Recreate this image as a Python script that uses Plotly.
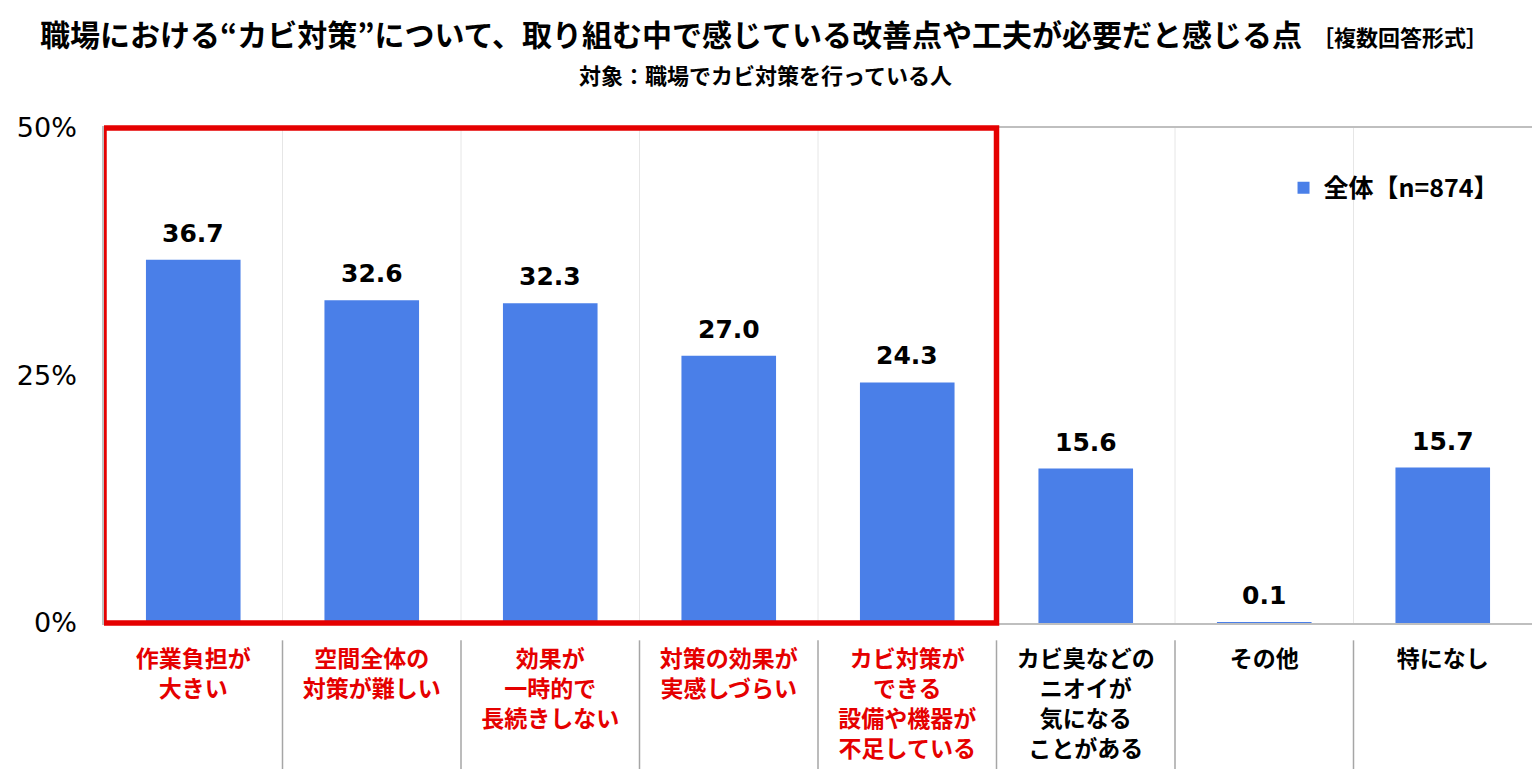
import plotly.graph_objects as go

categories = [
    "作業負担が<br>大きい",
    "空間全体の<br>対策が難しい",
    "効果が<br>一時的で<br>長続きしない",
    "対策の効果が<br>実感しづらい",
    "カビ対策が<br>できる<br>設備や機器が<br>不足している",
    "カビ臭などの<br>ニオイが<br>気になる<br>ことがある",
    "その他",
    "特になし",
]
values = [36.7, 32.6, 32.3, 27.0, 24.3, 15.6, 0.1, 15.7]
highlighted = [True, True, True, True, True, False, False, False]
series_name = "全体【n=874】"
y_tick_vals = [0, 25, 50]
y_tick_text = ["0%", "25%", "50%"]

FONT = "Noto Sans CJK JP"
NUMFONT = "DejaVu Sans"
BAR = "#4a7fe8"
RED = "#e50000"

xs = list(range(len(categories)))
ticktext = [
    f"<span style='color:{RED if h else '#000000'}'><b>{c}</b></span>"
    for c, h in zip(categories, highlighted)
]

fig = go.Figure()
fig.add_trace(go.Bar(
    x=xs, y=values, name=series_name,
    marker=dict(color=BAR, line=dict(width=0)),
    showlegend=True,
    hoverinfo="x+y",
))

for x, v in zip(xs, values):
    fig.add_annotation(
        x=x, y=v, xref="x", yref="y", text=f"<b>{v:.1f}</b>",
        showarrow=False, xanchor="center", yanchor="bottom", yshift=10,
        font=dict(family=NUMFONT, size=25, color="#000000"),
    )

shapes = []
n = len(categories)
for i in range(n - 1):
    b = i + 0.5
    shapes.append(dict(type="line", xref="x", yref="paper", x0=b, x1=b, y0=0, y1=1,
                       line=dict(color="#e6e6e6", width=1), layer="below"))
    shapes.append(dict(type="line", xref="x", yref="paper", x0=b, x1=b, y0=-0.035, y1=-0.30,
                       line=dict(color="#a6a6a6", width=1.5)))
hi_idx = [i for i, h in enumerate(highlighted) if h]
shapes.append(dict(type="rect", xref="x", yref="paper",
                   x0=min(hi_idx) - 0.5, x1=max(hi_idx) + 0.5, y0=0, y1=1,
                   line=dict(color=RED, width=5.5), layer="above"))

fig.update_layout(
    width=1532, height=761,
    margin=dict(l=96, r=8, t=120, b=146),
    paper_bgcolor="white", plot_bgcolor="white",
    font=dict(family=FONT, color="#000000"),
    bargap=0.47,
    showlegend=True,
    legend=dict(x=0.826, y=0.879, xanchor="left", yanchor="middle",
                font=dict(family=FONT, size=25, color="#000000", weight="bold"),
                bgcolor="rgba(0,0,0,0)", itemwidth=30),
    title=dict(
        text="<b>職場における“カビ対策”について、取り組む中で感じている改善点や工夫が必要だと感じる点</b>"
             "<span style='font-size:22px'><b>  ［複数回答形式］</b></span>",
        x=(764 - 8) / 1532, xanchor="center", y=1 - 27 / 761, yanchor="middle", yref="container",
        font=dict(family=FONT, size=30, color="#000000"),
    ),
    shapes=shapes,
    xaxis=dict(
        tickmode="array", tickvals=xs, ticktext=ticktext,
        range=[-0.5, n - 0.5],
        showgrid=False, zeroline=False,
        showline=True, linecolor="#bfbfbf", linewidth=1.5, mirror=True,
        ticks="", ticklabelstandoff=15, automargin=False,
        tickfont=dict(family=FONT, size=23),
    ),
    yaxis=dict(
        range=[0, 50], tickvals=y_tick_vals, ticktext=y_tick_text,
        showgrid=False, zeroline=False,
        showline=True, linecolor="#bfbfbf", linewidth=1.5, mirror=True,
        ticks="", ticklabelstandoff=20, automargin=False,
        tickfont=dict(family=NUMFONT, size=27, color="#000000"),
    ),
)

fig.add_annotation(
    text="<b>対象：職場でカビ対策を行っている人</b>",
    xref="paper", yref="paper", x=(765 - 104) / 1428, y=(615 - 66) / 495,
    xanchor="center", yanchor="middle", showarrow=False,
    font=dict(family=FONT, size=22, color="#000000"),
)

fig.write_html("out.html")
